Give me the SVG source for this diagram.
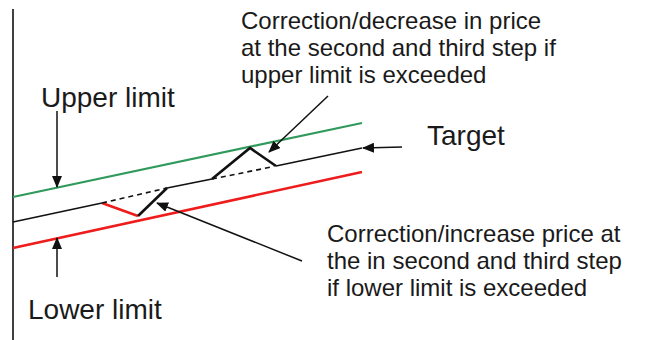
<svg xmlns="http://www.w3.org/2000/svg" width="646" height="340" viewBox="0 0 646 340">
<style>
text{font-family:"Liberation Sans",Arial,sans-serif;fill:#1a1a1a}
.big{font-size:28px}
.note{font-size:24px}
.thin{stroke:#111;stroke-width:1.6;fill:none}
.thick{stroke:#111;stroke-width:2.6;fill:none}
.dash{stroke:#111;stroke-width:1.6;stroke-dasharray:5 4;fill:none}
.arr{stroke:#111;stroke-width:1.5;fill:none;marker-end:url(#ah)}
</style>
<defs>
<marker id="ah" viewBox="0 0 12 10" refX="11" refY="5" markerWidth="12" markerHeight="10" markerUnits="userSpaceOnUse" orient="auto">
<path d="M0,0 L12,5 L0,10 Z" fill="#111"/>
</marker>
</defs>
<rect width="646" height="340" fill="#fff"/>
<g id="axis"><line x1="13" y1="9" x2="13" y2="340" stroke="#111" stroke-width="1.6"/></g>
<g id="upper-limit-line"><line x1="13" y1="197" x2="362" y2="123" stroke="#2f9a5c" stroke-width="2.2"/></g>
<g id="lower-limit-line"><line x1="13" y1="248" x2="362" y2="172" stroke="#ee1c1c" stroke-width="2.6"/></g>
<g id="target-line">
<polyline class="thin" points="13,222 102,203"/>
<line x1="102" y1="203" x2="138" y2="216" stroke="#ee1c1c" stroke-width="2.6"/>
<polyline class="thick" points="138,216 167,188"/>
<line class="dash" x1="102" y1="203" x2="167" y2="188"/>
<polyline class="thin" points="167,188 212,179"/>
<polyline class="thick" points="212,179 250,148 276,166"/>
<line class="dash" x1="212" y1="179" x2="274" y2="166.5"/>
<polyline class="thin" points="276,166 362,148"/>
</g>
<g id="connectors">
<line class="arr" x1="57" y1="111" x2="57" y2="187"/>
<line class="arr" x1="57" y1="277" x2="57" y2="238"/>
<line class="arr" x1="402" y1="147" x2="363" y2="148"/>
<line class="arr" x1="328" y1="96" x2="269" y2="152"/>
<line class="arr" x1="302" y1="261" x2="157" y2="203"/>
</g>
<g id="label-upper"><text class="big" x="41" y="107">Upper limit</text></g>
<g id="label-lower"><text class="big" x="28" y="319">Lower limit</text></g>
<g id="label-target"><text class="big" x="427" y="145">Target</text></g>
<g id="note-decrease">
<text class="note" x="241" y="29">Correction/decrease in price</text>
<text class="note" x="241" y="56">at the second and third step if</text>
<text class="note" x="241" y="83">upper limit is exceeded</text>
</g>
<g id="note-increase">
<text class="note" x="327" y="242">Correction/increase price at</text>
<text class="note" x="327" y="269">the in second and third step</text>
<text class="note" x="327" y="296">if lower limit is exceeded</text>
</g>
</svg>
